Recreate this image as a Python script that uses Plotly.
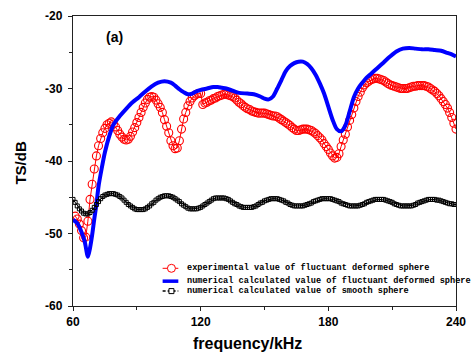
import plotly.graph_objects as go

# ---------------- data ----------------
exp_freq = list(range(61, 121)) + list(range(121, 241))
exp_ts = [
    -47.6, -48.0, -48.7, -49.6, -50.6, -50.5, -48.3, -45.3, -43.2, -41.1,
    -39.3, -37.9, -36.9, -36.1, -35.5, -35.0, -34.8, -34.6, -34.9, -35.3,
    -35.8, -36.3, -36.7, -37.0, -37.1, -37.0, -36.6, -36.0, -35.4, -34.7,
    -34.0, -33.3, -32.6, -32.0, -31.5, -31.2, -31.1, -31.2, -31.6, -32.1,
    -32.6, -33.3, -34.3, -35.2, -36.1, -37.2, -37.9, -38.3, -38.2, -37.2,
    -35.6, -34.2, -33.3, -32.4, -31.8, -31.3, -31.0, -30.8, -30.7, -30.7,
    -32.2, -32.0, -31.9, -31.7, -31.6, -31.4, -31.3, -31.1, -31.0, -30.9,
    -30.8, -30.8, -30.9, -31.0, -31.1, -31.3, -31.6, -31.9, -32.1, -32.4,
    -32.6, -32.8, -32.9, -33.1, -33.2, -33.3, -33.4, -33.4, -33.4, -33.4,
    -33.5, -33.6, -33.7, -33.8, -33.8, -33.9, -34.1, -34.3, -34.5, -34.7,
    -34.9, -35.1, -35.4, -35.6, -35.8, -35.8, -35.7, -35.6, -35.6, -35.6,
    -35.7, -35.8, -36.0, -36.2, -36.5, -36.8, -37.1, -37.6, -38.0, -38.4,
    -38.9, -39.3, -39.6, -39.5, -39.0, -38.0, -37.1, -36.3, -35.3, -34.4,
    -33.6, -32.7, -31.8, -31.1, -30.5, -29.9, -29.5, -29.2, -29.0, -28.8,
    -28.7, -28.6, -28.6, -28.7, -28.8, -28.9, -29.1, -29.3, -29.5, -29.6,
    -29.7, -29.8, -29.9, -30.0, -30.0, -30.0, -30.0, -29.9, -29.8, -29.7,
    -29.7, -29.6, -29.6, -29.6, -29.6, -29.7, -29.8, -30.0, -30.2, -30.4,
    -30.7, -31.0, -31.4, -31.8, -32.2, -32.7, -33.3, -34.0, -34.8, -35.6,
]

num_freq = [60, 62, 64, 65.5, 67, 68, 69, 70, 71, 72, 73.5, 75, 77, 79, 82, 85,
            88, 91, 94, 97, 100, 103, 106, 108, 110, 112, 114, 116, 118, 120,
            123, 126, 128, 130, 132, 135, 138, 142, 145, 148, 150, 152, 154,
            156, 158, 160, 162, 164, 166, 168, 170, 172, 174, 176, 178, 180,
            182, 184, 186, 188, 190, 192, 194, 196, 198, 200, 203, 206, 209,
            212, 215, 218, 221, 224, 227, 230, 233, 236, 238, 240]
num_ts = [-48.1, -48.6, -49.8, -51.1, -53.2, -52.0, -50.2, -48.0, -46.0, -43.5,
          -41.0, -38.8, -36.6, -35.0, -33.8, -32.8, -31.9, -31.2, -30.4, -29.7,
          -29.2, -29.0, -29.2, -29.6, -30.1, -30.5, -30.8, -30.7, -30.4, -30.2,
          -30.0, -29.8, -29.8, -29.9, -30.0, -30.3, -30.6, -30.7, -30.8, -31.1,
          -31.4, -31.5, -31.1, -30.0, -28.8, -27.6, -26.9, -26.5, -26.3, -26.3,
          -26.6, -27.2, -28.1, -29.3, -30.7, -32.5, -34.3, -35.6, -35.9, -35.1,
          -33.2, -31.2, -30.0, -29.2, -28.5, -28.0, -27.2, -26.4, -25.6, -24.9,
          -24.5, -24.4, -24.5, -24.6, -24.6, -24.7, -24.8, -25.1, -25.3, -25.6]

smooth_freq = list(range(60, 241))
smooth_ts = [
    -45.3, -45.7, -46.2, -46.6, -46.9, -47.2, -47.3, -47.3, -47.1, -46.8,
    -46.4, -46.0, -45.6, -45.2, -44.9, -44.7, -44.6, -44.5, -44.5, -44.5,
    -44.6, -44.7, -44.9, -45.1, -45.4, -45.7, -46.0, -46.2, -46.4, -46.6,
    -46.7, -46.7, -46.7, -46.7, -46.6, -46.4, -46.2, -45.9, -45.7, -45.4,
    -45.2, -45.0, -44.9, -44.8, -44.8, -44.8, -44.9, -45.0, -45.2, -45.4,
    -45.6, -45.9, -46.1, -46.3, -46.5, -46.6, -46.6, -46.6, -46.6, -46.5,
    -46.4, -46.2, -46.0, -45.8, -45.6, -45.4, -45.2, -45.1, -45.1, -45.1,
    -45.1, -45.1, -45.2, -45.3, -45.5, -45.7, -45.9, -46.0, -46.2, -46.3,
    -46.4, -46.4, -46.4, -46.4, -46.4, -46.3, -46.2, -46.0, -45.8, -45.7,
    -45.5, -45.4, -45.3, -45.2, -45.2, -45.2, -45.2, -45.3, -45.4, -45.5,
    -45.7, -45.8, -46.0, -46.1, -46.2, -46.2, -46.2, -46.2, -46.2, -46.1,
    -46.0, -45.9, -45.8, -45.6, -45.5, -45.4, -45.3, -45.2, -45.2, -45.2,
    -45.2, -45.2, -45.3, -45.4, -45.5, -45.6, -45.8, -45.9, -46.0, -46.1,
    -46.2, -46.2, -46.2, -46.2, -46.2, -46.1, -46.0, -45.9, -45.7, -45.6,
    -45.5, -45.4, -45.3, -45.3, -45.3, -45.3, -45.3, -45.4, -45.5, -45.6,
    -45.7, -45.9, -46.0, -46.1, -46.2, -46.2, -46.2, -46.2, -46.2, -46.2,
    -46.1, -46.0, -45.8, -45.7, -45.6, -45.5, -45.4, -45.3, -45.3, -45.3,
    -45.3, -45.4, -45.4, -45.5, -45.6, -45.7, -45.8, -45.9, -45.9, -46.0,
    -46.0,
]

x_ticks = [60, 120, 180, 240]
x_tick_text = ["60", "120", "180", "240"]
y_ticks = [-60, -50, -40, -30, -20]
y_tick_text = ["-60", "-50", "-40", "-30", "-20"]
legend_labels = [
    "experimental value of fluctuant deformed sphere",
    "numerical calculated value of fluctuant deformed sphere",
    "numerical calculated value of smooth sphere",
]

RED = "#ff0000"
BLUE = "#0000ff"
BLACK = "#000000"
AXC = "#222222"

fig = go.Figure()
fig.add_trace(go.Scatter(
    x=exp_freq, y=exp_ts, mode="lines+markers", name=legend_labels[0],
    line=dict(color=RED, width=1),
    marker=dict(symbol="circle-open", size=8, color=RED, line=dict(width=1.1, color=RED)),
))
fig.add_trace(go.Scatter(
    x=num_freq, y=num_ts, mode="lines", name=legend_labels[1],
    line=dict(color=BLUE, width=4, shape="spline", smoothing=0.8),
))
fig.add_trace(go.Scatter(
    x=smooth_freq, y=smooth_ts, mode="lines+markers", name=legend_labels[2],
    line=dict(color=BLACK, width=1),
    marker=dict(symbol="square-open", size=4, color=BLACK, line=dict(width=1, color=BLACK)),
))

tickfont = dict(family="Liberation Sans, Arial, sans-serif", size=12, color="#000", weight="bold")

fig.update_layout(
    width=475, height=356,
    margin=dict(l=73, r=9, t=14, b=50),
    paper_bgcolor="white", plot_bgcolor="white",
    showlegend=False,
    xaxis=dict(
        range=[60, 240], tickvals=x_ticks, ticktext=x_tick_text, ticks="outside", ticklen=4, tickwidth=1.3,
        tickcolor=AXC, showline=True, linecolor=AXC, linewidth=1.3, mirror=True,
        showgrid=False, zeroline=False, tickfont=tickfont, ticklabeloverflow="allow",
        minor=dict(dtick=30, tick0=60, ticks="outside", ticklen=3, tickwidth=1.3, tickcolor=AXC, showgrid=False),
    ),
    yaxis=dict(
        range=[-60, -20], tickvals=y_ticks, ticktext=y_tick_text, ticks="outside", ticklen=4, tickwidth=1.3,
        tickcolor=AXC, showline=True, linecolor=AXC, linewidth=1.3, mirror=True,
        showgrid=False, zeroline=False, tickfont=tickfont, ticklabeloverflow="allow",
        ticklabelstandoff=3,
        minor=dict(dtick=5, tick0=-60, ticks="outside", ticklen=3, tickwidth=1.3, tickcolor=AXC, showgrid=False),
    ),
    xaxis2=dict(
        range=[60, 240], overlaying="x", side="top", dtick=30, tick0=60, ticks="inside",
        ticklen=3, tickwidth=1.2, tickcolor=AXC, showticklabels=False, showgrid=False,
        zeroline=False, showline=False,
    ),
    yaxis2=dict(
        range=[-60, -20], overlaying="y", side="right", dtick=5, tick0=-60, ticks="inside",
        ticklen=3, tickwidth=1.2, tickcolor=AXC, showticklabels=False, showgrid=False,
        zeroline=False, showline=False,
    ),
)

# axis titles and panel label
title_font = dict(family="Liberation Sans, Arial, sans-serif", size=16, color="#000", weight="bold")
fig.add_annotation(text="frequency/kHz", xref="paper", yref="paper", x=0.455, y=-0.130,
                   xanchor="center", yanchor="middle", showarrow=False, font=title_font)
fig.add_annotation(text="TS/dB", xref="paper", yref="paper", x=-0.137, y=0.493,
                   xanchor="center", yanchor="middle", textangle=-90, showarrow=False,
                   font=dict(family="Liberation Sans, Arial, sans-serif", size=15, color="#000", weight="bold"))
fig.add_annotation(text="(a)", xref="paper", yref="paper", x=0.109, y=0.928,
                   xanchor="center", yanchor="middle", showarrow=False,
                   font=dict(family="Liberation Sans, Arial, sans-serif", size=14, color="#000", weight="bold"))

# manual compact legend
leg_x0, leg_x1, leg_xm, leg_tx = 0.234, 0.275, 0.257, 0.293
leg_rows = [0.130, 0.0856, 0.0514]
leg_font = dict(family="Liberation Mono, DejaVu Sans Mono, monospace", size=8.6, color="#000", weight="bold")
# row 1: red line + open circle
fig.add_shape(type="line", xref="paper", yref="paper", x0=leg_x0, x1=leg_x1,
              y0=leg_rows[0], y1=leg_rows[0], line=dict(color=RED, width=1))
fig.add_shape(type="circle", xref="paper", yref="paper", xsizemode="pixel", ysizemode="pixel",
              xanchor=leg_xm, yanchor=leg_rows[0], x0=-4, x1=4, y0=-4, y1=4,
              line=dict(color=RED, width=1), fillcolor="white")
# row 2: thick blue line
fig.add_shape(type="line", xref="paper", yref="paper", x0=leg_x0, x1=leg_x1,
              y0=leg_rows[1], y1=leg_rows[1], line=dict(color=BLUE, width=3.5))
# row 3: dashed black line + open square
fig.add_shape(type="line", xref="paper", yref="paper", x0=leg_x0, x1=leg_x1,
              y0=leg_rows[2], y1=leg_rows[2], line=dict(color=BLACK, width=1.5, dash="3px,2px"))
fig.add_shape(type="rect", xref="paper", yref="paper", xsizemode="pixel", ysizemode="pixel",
              xanchor=leg_xm, yanchor=leg_rows[2], x0=-2.5, x1=2.5, y0=-2.5, y1=2.5,
              line=dict(color=BLACK, width=1), fillcolor="white")
for lab, yy in zip(legend_labels, leg_rows):
    fig.add_annotation(text=lab, xref="paper", yref="paper", x=leg_tx, y=yy,
                       xanchor="left", yanchor="middle", showarrow=False, font=leg_font)

fig.write_html("out.html")
